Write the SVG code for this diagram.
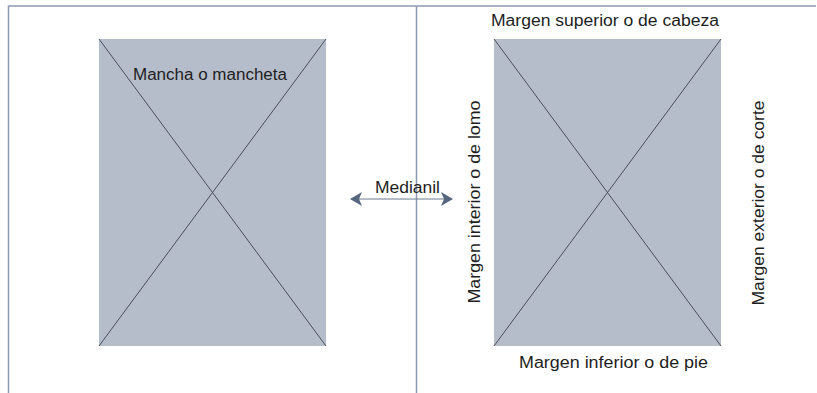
<svg xmlns="http://www.w3.org/2000/svg" width="817" height="393" viewBox="0 0 817 393">
<style>
.frame{stroke:#8d9bb0;stroke-width:1.5;fill:none}
.page{fill:#b6bdca}
.diag{stroke:#4a4f5a;stroke-width:1;fill:none}
.lbl{font-family:"Liberation Sans","DejaVu Sans",sans-serif;font-size:16px;fill:#1e1e1e}
.conn{stroke:#6a7a92;stroke-width:1.2;fill:none}
</style>
<defs>
<marker id="ah" viewBox="0 0 12 14" refX="11" refY="7" markerWidth="12" markerHeight="15" markerUnits="userSpaceOnUse" orient="auto-start-reverse">
<path d="M0,0 L12,7 L0,14 L3,7 Z" fill="#56667e"/>
</marker>
</defs>
<rect width="817" height="393" fill="#ffffff"/>
<g id="frame">
<path class="frame" d="M8.5,393 V6 H816"/>
<line class="frame" x1="416.5" y1="6" x2="416.5" y2="393"/>
</g>
<g id="left-page">
<rect class="page" x="99" y="39" width="227" height="307"/>
<line class="diag" x1="99" y1="39" x2="326" y2="346"/>
<line class="diag" x1="326" y1="39" x2="99" y2="346"/>
<text class="lbl" x="210" y="80" text-anchor="middle" textLength="154" lengthAdjust="spacingAndGlyphs">Mancha o mancheta</text>
</g>
<g id="right-page">
<rect class="page" x="494" y="39" width="227" height="307"/>
<line class="diag" x1="494" y1="39" x2="721" y2="346"/>
<line class="diag" x1="721" y1="39" x2="494" y2="346"/>
</g>
<g id="top-margin"><text class="lbl" x="605" y="26" text-anchor="middle" textLength="228" lengthAdjust="spacingAndGlyphs">Margen superior o de cabeza</text></g>
<g id="bottom-margin"><text class="lbl" x="613.5" y="368" text-anchor="middle" textLength="189" lengthAdjust="spacingAndGlyphs">Margen inferior o de pie</text></g>
<g id="inner-margin"><text class="lbl" transform="translate(480,202) rotate(-90)" text-anchor="middle" textLength="203" lengthAdjust="spacingAndGlyphs">Margen interior o de lomo</text></g>
<g id="outer-margin"><text class="lbl" transform="translate(764,203) rotate(-90)" text-anchor="middle" textLength="205" lengthAdjust="spacingAndGlyphs">Margen exterior o de corte</text></g>
<g id="connectors">
<line class="conn" x1="351" y1="199" x2="452" y2="199" marker-start="url(#ah)" marker-end="url(#ah)"/>
</g>
<g id="medianil"><text class="lbl" x="407.5" y="193" text-anchor="middle" textLength="65" lengthAdjust="spacingAndGlyphs">Medianil</text></g>
</svg>
